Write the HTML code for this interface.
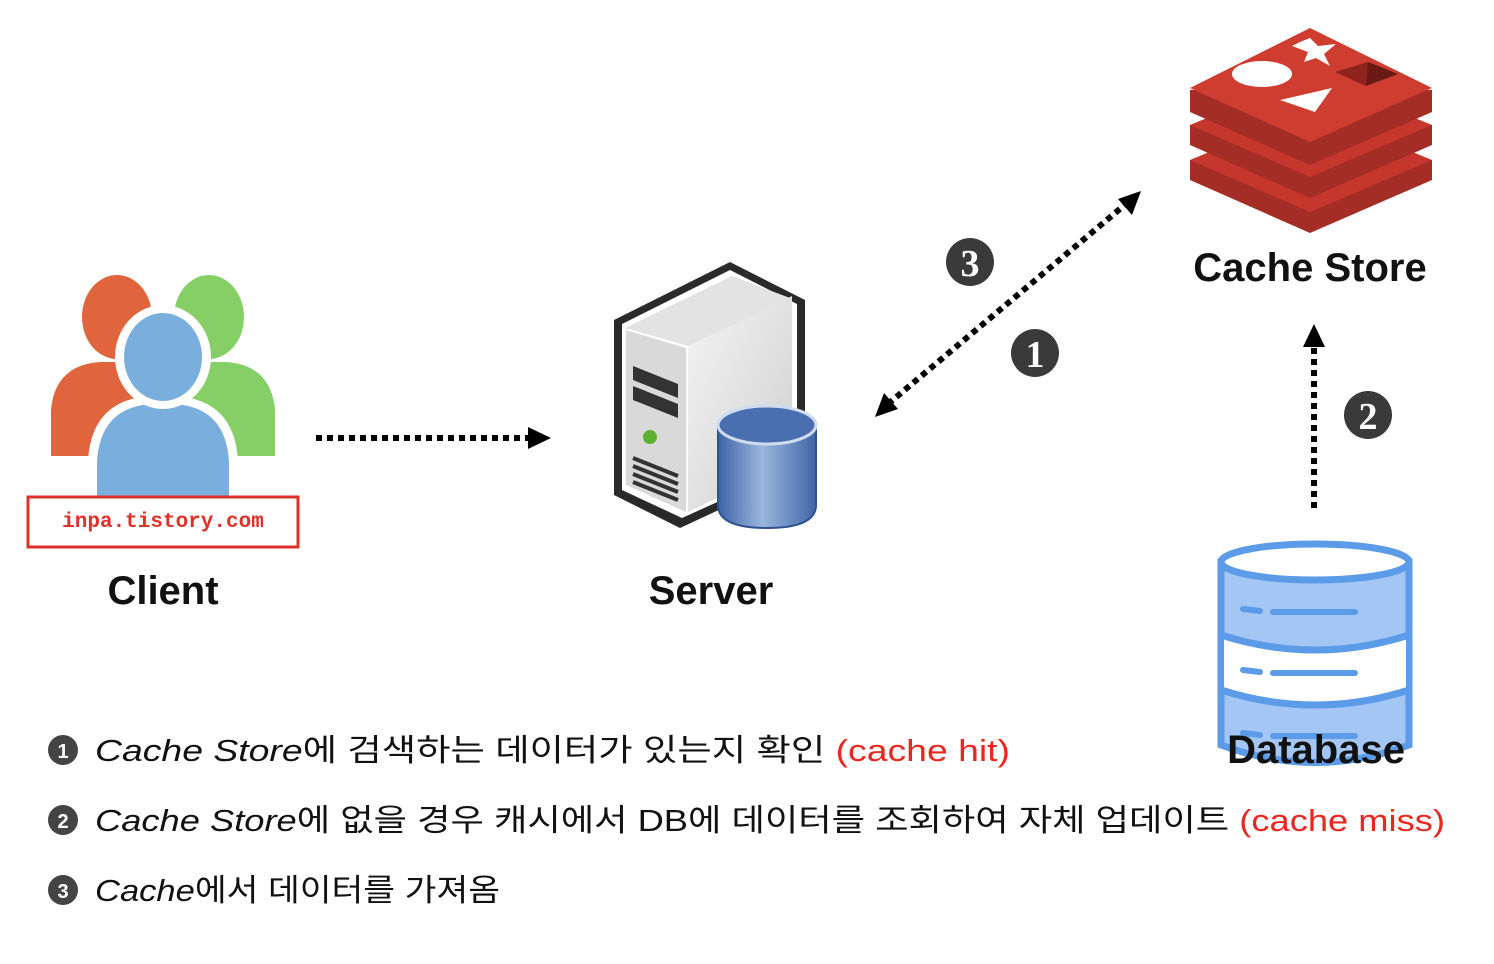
<!DOCTYPE html>
<html><head><meta charset="utf-8"><style>html,body{margin:0;padding:0;background:#fff}svg{display:block}</style></head>
<body>
<svg width="1494" height="964" viewBox="0 0 1494 964" xmlns="http://www.w3.org/2000/svg">
<defs>
<linearGradient id="srv" x1="0" y1="0" x2="1" y2="1"><stop offset="0" stop-color="#f4f4f4"/><stop offset="1" stop-color="#cfcfcf"/></linearGradient>
<linearGradient id="cyl" x1="0" x2="1"><stop offset="0" stop-color="#3d63a6"/><stop offset="0.45" stop-color="#9ab6dd"/><stop offset="1" stop-color="#3f66a8"/></linearGradient>
<marker id="ah" markerWidth="10" markerHeight="10" refX="5" refY="5" orient="auto" markerUnits="userSpaceOnUse"><path d="M0,0 L10,5 L0,10 z" fill="#000"/></marker>
</defs>

<!-- Client people -->
<path d="M51,456 L51,410 Q55,365 100,362 L135,362 L135,456 Z" fill="#e0653c"/>
<ellipse cx="117" cy="317" rx="35" ry="42" fill="#e0653c"/>
<path d="M275,456 L275,410 Q271,365 226,362 L191,362 L191,456 Z" fill="#86cf67"/>
<ellipse cx="209" cy="317" rx="35" ry="42" fill="#86cf67"/>
<path d="M88,500 L88,460 Q92,400 150,396 L176,396 Q234,400 238,460 L238,500 Z" fill="#fff"/>
<path d="M97,500 L97,462 Q100,407 152,404 L174,404 Q226,407 229,462 L229,500 Z" fill="#79aedd"/>
<ellipse cx="163" cy="357" rx="48" ry="52" fill="#fff"/>
<ellipse cx="163" cy="357" rx="39" ry="44" fill="#79aedd"/>
<rect x="28" y="497" width="270" height="50" fill="#fff" stroke="#e0302a" stroke-width="3"/>
<text x="163" y="527" text-anchor="middle" font-family="Liberation Mono, monospace" font-size="21" fill="#e0302a" font-weight="bold">inpa.tistory.com</text>
<text x="163" y="604" text-anchor="middle" font-family="Liberation Sans, sans-serif" font-size="40" font-weight="bold" fill="#111">Client</text>

<!-- Arrow client -> server -->
<line x1="316" y1="438" x2="530" y2="438" stroke="#000" stroke-width="6" stroke-dasharray="6,5"/>
<path d="M528,427 L551,438 L528,449 Z" fill="#000"/>

<!-- Server -->
<path d="M614,320 L730,262 L805,300 L805,470 L680,528 L614,495 Z" fill="#2a2a2a"/>
<path d="M622,324 L730,270 L797,304 L797,466 L682,518 L622,490 Z" fill="#fff"/>
<path d="M688,346 L792,296 L792,462 L688,512 Z" fill="url(#srv)"/>
<path d="M625,328 L732,276 L790,298 L688,346 Z" fill="#e3e3e3"/>
<path d="M626,330 L686,348 L686,512 L626,485 Z" fill="#d9d9d9"/>
<path d="M633,366 L678,384 L678,398 L633,380 Z M633,386 L678,404 L678,418 L633,400 Z" fill="#333"/>
<circle cx="650" cy="437" r="7" fill="#5cb330"/>
<path d="M633,458 L678,476 M633,466 L678,484 M633,474 L678,492 M633,482 L678,500" stroke="#333" stroke-width="4"/>
<path d="M718,425 L718,505 Q718,528 767,528 Q816,528 816,505 L816,425 Z" fill="url(#cyl)" stroke="#2f528f" stroke-width="2"/>
<ellipse cx="767" cy="425" rx="49" ry="19" fill="#4a6fb0" stroke="#cfdcf0" stroke-width="3"/>
<text x="711" y="604" text-anchor="middle" font-family="Liberation Sans, sans-serif" font-size="40" font-weight="bold" fill="#111">Server</text>

<!-- Double arrow server <-> cache -->
<line x1="888" y1="404" x2="1127" y2="203" stroke="#000" stroke-width="6" stroke-dasharray="6,5"/>
<path d="M875,417 L884,393 L898,409 Z" fill="#000"/>
<path d="M1141,191 L1132,215 L1118,199 Z" fill="#000"/>
<circle cx="970" cy="262" r="24" fill="#3a3a3a"/>
<text x="970" y="276" text-anchor="middle" font-family="Liberation Serif, serif" font-size="38" font-weight="bold" fill="#fff">3</text>
<circle cx="1035" cy="353" r="24" fill="#3a3a3a"/>
<text x="1035" y="367" text-anchor="middle" font-family="Liberation Serif, serif" font-size="38" font-weight="bold" fill="#fff">1</text>

<!-- Redis -->
<g>
<path d="M1190,160 L1190,180 L1310,233 L1432,180 L1432,160 Z" fill="#a42d26"/>
<path d="M1190,160 L1310,110 L1432,160 L1310,212 Z" fill="#c5372d"/>
<path d="M1190,125 L1190,145 L1310,198 L1432,145 L1432,125 Z" fill="#a42d26"/>
<path d="M1190,125 L1310,75 L1432,125 L1310,177 Z" fill="#c5372d"/>
<path d="M1190,90 L1190,112 L1310,165 L1432,112 L1432,90 Z" fill="#a42d26"/>
<path d="M1190,88 L1310,28 L1432,88 L1310,142 Z" fill="#cf3c30"/>
<ellipse cx="1262" cy="74" rx="30" ry="13" fill="#fff"/>
<path d="M1280,100 L1332,88 L1315,112 Z" fill="#fff"/>
<path d="M1300,42 L1310,38 L1318,46 L1336,44 L1324,54 L1330,66 L1316,58 L1304,62 L1308,52 L1292,46 Z" fill="#fff"/>
<path d="M1335,72 L1368,62 L1398,74 L1366,86 Z" fill="#8e241d"/>
<path d="M1368,62 L1398,74 L1366,86 Z" fill="#6a1a15"/>
</g>
<text x="1310" y="281" text-anchor="middle" font-family="Liberation Sans, sans-serif" font-size="40" font-weight="bold" fill="#111">Cache Store</text>

<!-- Vertical arrow db -> cache -->
<line x1="1314" y1="508" x2="1314" y2="345" stroke="#000" stroke-width="6" stroke-dasharray="6,5"/>
<path d="M1303,347 L1314,324 L1325,347 Z" fill="#000"/>
<circle cx="1368" cy="415" r="24" fill="#3a3a3a"/>
<text x="1368" y="429" text-anchor="middle" font-family="Liberation Serif, serif" font-size="38" font-weight="bold" fill="#fff">2</text>

<!-- Database -->
<g stroke="#5b9be8" stroke-width="7" stroke-linecap="round">
<path d="M1221,562 L1221,745 Q1315,780 1409,745 L1409,562 Z" fill="#a3c6f5"/>
<path d="M1224,635 Q1315,665 1406,635 L1406,690 Q1315,720 1224,690 Z" fill="#fff" stroke="none"/>
<path d="M1221,635 Q1315,665 1409,635 M1221,690 Q1315,720 1409,690" fill="none"/>
<ellipse cx="1315" cy="562" rx="94" ry="18" fill="#fff"/>
<path d="M1243,609 L1260,611 M1273,612 L1355,612 M1243,670 L1260,672 M1273,673 L1355,673 M1243,733 L1260,735 M1273,736 L1355,736" fill="none" stroke-width="6"/>
</g>
<text x="1316" y="763" text-anchor="middle" font-family="Liberation Sans, sans-serif" font-size="40" font-weight="bold" fill="#111">Database</text>

<!-- Legend -->
<g font-family="Liberation Sans, 'Noto Sans CJK KR', sans-serif" font-size="31" fill="#111">
<circle cx="63" cy="750" r="15" fill="#444"/><text x="63" y="758" text-anchor="middle" font-size="20" fill="#fff" font-weight="bold">1</text>
<text x="95" y="761" textLength="915" lengthAdjust="spacingAndGlyphs"><tspan font-style="italic">Cache Store</tspan>에 검색하는 데이터가 있는지 확인 <tspan fill="#e8281e">(cache hit)</tspan></text>
<circle cx="63" cy="820" r="15" fill="#444"/><text x="63" y="828" text-anchor="middle" font-size="20" fill="#fff" font-weight="bold">2</text>
<text x="95" y="831" textLength="1350" lengthAdjust="spacingAndGlyphs"><tspan font-style="italic">Cache Store</tspan>에 없을 경우 캐시에서 DB에 데이터를 조회하여 자체 업데이트 <tspan fill="#e8281e">(cache miss)</tspan></text>
<circle cx="63" cy="890" r="15" fill="#444"/><text x="63" y="898" text-anchor="middle" font-size="20" fill="#fff" font-weight="bold">3</text>
<text x="95" y="901" textLength="405" lengthAdjust="spacingAndGlyphs"><tspan font-style="italic">Cache</tspan>에서 데이터를 가져옴</text>
</g>
</svg>
</body></html>
